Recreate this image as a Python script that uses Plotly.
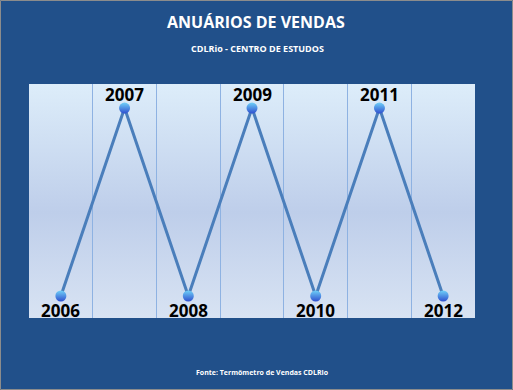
import base64
import plotly.graph_objects as go

years = ["2006", "2007", "2008", "2009", "2010", "2011", "2012"]
values = [1, 2, 1, 2, 1, 2, 1]
label_side = [-1, 1, -1, 1, -1, 1, -1]   # -1 label below point, 1 above

W, H = 513, 390
ML, MR, MT, MB = 29, 38, 84, 72
PW, PH = W - ML - MR, H - MT - MB

BG = "#21508A"

xs = list(range(len(years)))

fig = go.Figure()
fig.add_trace(go.Scatter(
    x=xs, y=values,
    mode="lines+markers",
    line=dict(color="#4A7EBB", width=3),
    marker=dict(size=11, color="#6FD0F8",
                gradient=dict(type="vertical", color="#2F4FCF"),
                line=dict(width=0)),
    cliponaxis=False,
    hoverinfo="skip",
))

# vertical gradient background of the plot area (SVG image)
svg = (
    '<svg xmlns="http://www.w3.org/2000/svg" width="100" height="100" '
    'preserveAspectRatio="none">'
    '<defs><linearGradient id="g" x1="0" y1="0" x2="0" y2="1">'
    '<stop offset="0" stop-color="#DDEDFA"/>'
    '<stop offset="0.55" stop-color="#BECEEA"/>'
    '<stop offset="1" stop-color="#D8E3F3"/>'
    '</linearGradient></defs>'
    '<rect width="100" height="100" fill="url(#g)"/></svg>'
)
src = "data:image/svg+xml;base64," + base64.b64encode(svg.encode()).decode()

fig.add_layout_image(dict(source=src, xref="paper", yref="paper",
                          x=0, y=1, sizex=1, sizey=1, sizing="stretch",
                          xanchor="left", yanchor="top", layer="below"))

shapes = [dict(type="rect", xref="paper", yref="paper",
               x0=-(ML - 0.5) / PW, x1=1 + (MR - 0.5) / PW,
               y0=-(MB - 0.5) / PH, y1=1 + (MT - 0.5) / PH,
               line=dict(color="#8C8C8C", width=1), layer="above")]

annotations = [
    dict(text="ANUÁRIOS DE VENDAS", xref="paper", yref="paper",
         x=(256 - ML) / PW, y=1 + (MT - 22) / PH, showarrow=False,
         xanchor="center", yanchor="middle",
         font=dict(family="Open Sans", size=16, color="white", weight="bold")),
    dict(text="CDLRio - CENTRO DE ESTUDOS", xref="paper", yref="paper",
         x=(257 - ML) / PW, y=1 + (MT - 48) / PH, showarrow=False,
         xanchor="center", yanchor="middle",
         font=dict(family="Open Sans", size=9, color="white", weight="bold")),
    dict(text="Fonte: Termômetro de Vendas CDLRio", xref="paper", yref="paper",
         x=(262 - ML) / PW, y=-(372 - MT - PH) / PH, showarrow=False,
         xanchor="center", yanchor="middle",
         font=dict(family="Open Sans", size=7, color="white", weight="bold")),
]
for x, v, t, s in zip(xs, values, years, label_side):
    annotations.append(dict(
        x=x, y=v, xref="x", yref="y", text=t, showarrow=False,
        xanchor="center", yanchor="middle", yshift=14 * s,
        font=dict(family="Open Sans", size=17, color="black", weight="bold")))

fig.update_layout(
    width=W, height=H,
    margin=dict(l=ML, r=MR, t=MT, b=MB),
    paper_bgcolor=BG, plot_bgcolor="rgba(0,0,0,0)",
    showlegend=False,
    shapes=shapes,
    annotations=annotations,
    xaxis=dict(range=[-0.5, 6.5], tickvals=[0.5, 1.5, 2.5, 3.5, 4.5, 5.5],
               showticklabels=False, showgrid=True, gridcolor="#8EB2E2",
               gridwidth=1, zeroline=False, ticks="", showline=False,
               fixedrange=True),
    yaxis=dict(range=[0.883, 2.128], showgrid=False, showticklabels=False,
               zeroline=False, ticks="", showline=False, fixedrange=True),
)

fig.write_html("out.html", config={"displayModeBar": False, "staticPlot": True})

with open("out.html", "r", encoding="utf-8") as f:
    html = f.read()
html = html.replace("<head>", "<head><style>html,body{margin:0;padding:0;overflow:hidden}</style>", 1)
with open("out.html", "w", encoding="utf-8") as f:
    f.write(html)
